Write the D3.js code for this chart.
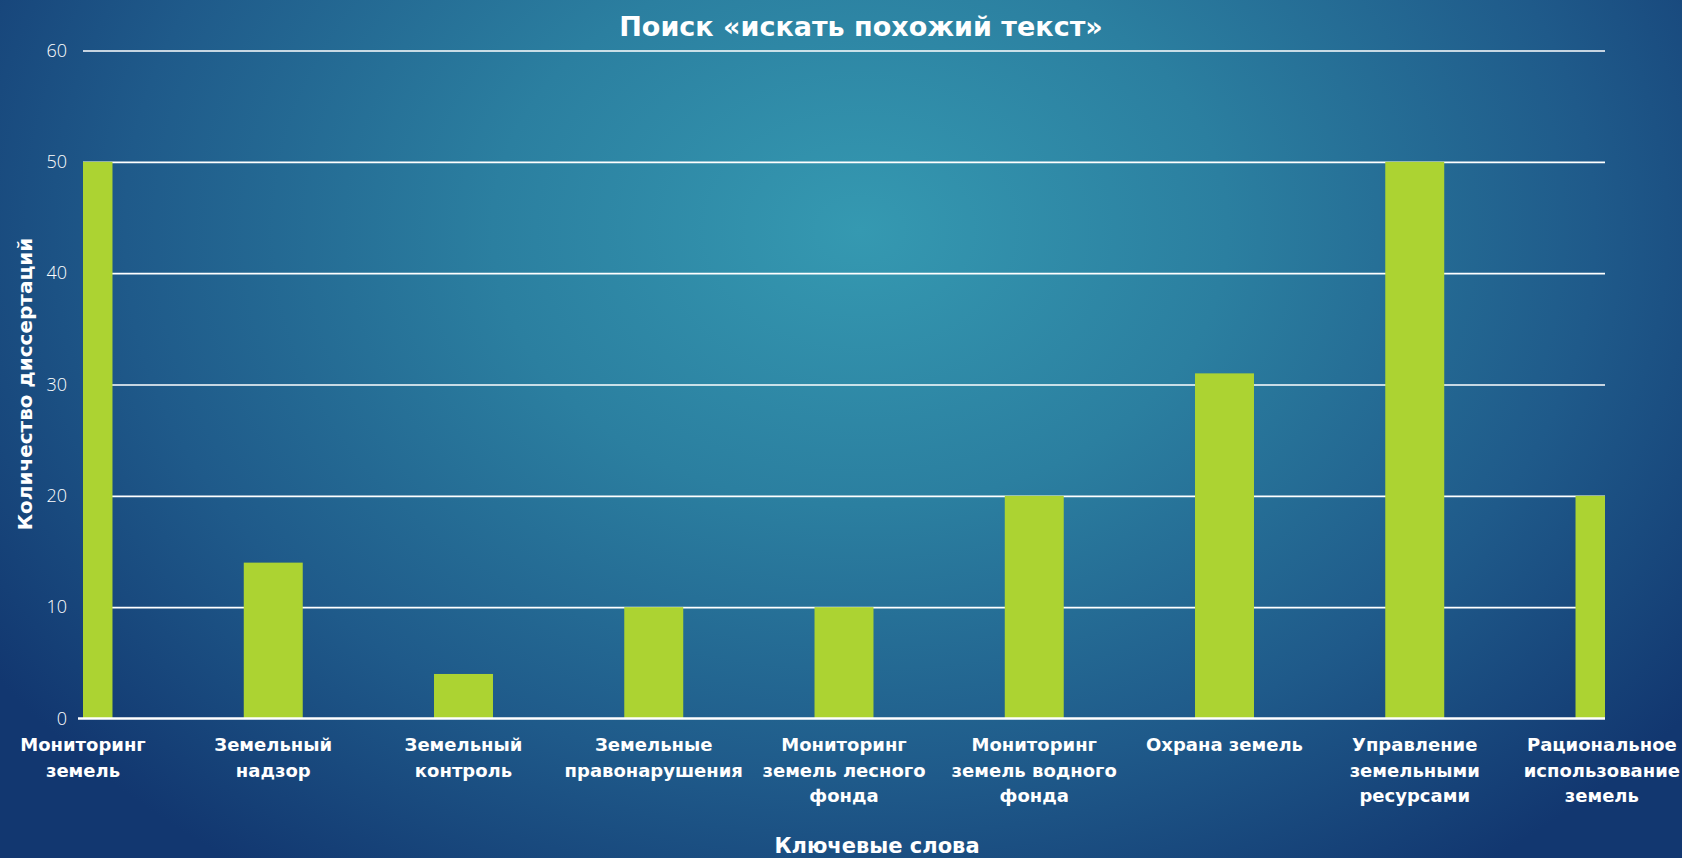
<!DOCTYPE html>
<html><head><meta charset="utf-8">
<script src="https://cdn.jsdelivr.net/npm/d3@7"></script>
<style>
html,body{margin:0;padding:0;overflow:hidden;background:#1a4a7e}
svg{display:block}
</style></head>
<body>
<svg id="chart" width="1682" height="858"></svg>
<script>
const categories = [
  "Мониторинг\nземель",
  "Земельный\nнадзор",
  "Земельный\nконтроль",
  "Земельные\nправонарушения",
  "Мониторинг\nземель лесного\nфонда",
  "Мониторинг\nземель водного\nфонда",
  "Охрана земель",
  "Управление\nземельными\nресурсами",
  "Рациональное\nиспользование\nземель"
];
const values = [50, 14, 4, 10, 10, 20, 31, 50, 20];
const yTicks = [0, 10, 20, 30, 40, 50, 60];
const titleText = "Поиск «искать похожий текст»";
const xTitle = "Ключевые слова";
const yTitle = "Количество диссертаций";

const W = 1682, H = 858;
const m = {left: 83, right: 1605, top: 50.5, bottom: 718.5};
const svg = d3.select("#chart");
const defs = svg.append("defs");

const grad = defs.append("radialGradient").attr("id","bg")
  .attr("gradientUnits","userSpaceOnUse")
  .attr("cx", 860).attr("cy", 230).attr("r", 1050)
  .attr("gradientTransform","translate(860,230) scale(1,0.75) translate(-860,-230)");
grad.append("stop").attr("offset","0%").attr("stop-color","#3599b1");
grad.append("stop").attr("offset","35%").attr("stop-color","#2b7fa0");
grad.append("stop").attr("offset","70%").attr("stop-color","#1f5a8a");
grad.append("stop").attr("offset","100%").attr("stop-color","#123770");
svg.append("rect").attr("width",W).attr("height",H).attr("fill","url(#bg)");

defs.append("clipPath").attr("id","plotclip").append("rect")
  .attr("x", m.left).attr("y", m.top - 5).attr("width", m.right - m.left).attr("height", m.bottom - m.top + 5);

const x = d3.scalePoint().domain(d3.range(categories.length)).range([m.left, m.right]).padding(0);
const y = d3.scaleLinear().domain([0, 60]).range([m.bottom, m.top]);
const barW = x.step() * 0.31;

// gridlines
const yAxis = d3.axisLeft(y).tickValues(yTicks).tickSize(-(m.right - m.left)).tickPadding(16);
const gy = svg.append("g").attr("transform", `translate(${m.left},0)`).call(yAxis);
gy.select(".domain").remove();
gy.selectAll(".tick line").attr("stroke","#ffffff").attr("stroke-width",1.6)
  .filter(d => d === 0).attr("stroke-opacity",0);
gy.selectAll(".tick text").attr("fill","#ffffff").attr("font-family","'Open Sans', sans-serif")
  .attr("font-weight",300).attr("font-size","18px");

// bars
svg.append("g").attr("clip-path","url(#plotclip)")
  .selectAll("rect").data(values).join("rect")
  .attr("x", (d,i) => x(i) - barW/2)
  .attr("y", d => y(d))
  .attr("width", barW)
  .attr("height", d => y(0) - y(d))
  .attr("fill", "#acd332");

// baseline axis
svg.append("line").attr("x1", m.left - 5).attr("x2", m.right).attr("y1", y(0)).attr("y2", y(0))
  .attr("stroke","#ffffff").attr("stroke-width",2.5);

// x labels
const lab = svg.append("g").attr("font-family","'DejaVu Sans', sans-serif").attr("font-weight","bold")
  .attr("font-size","18px").attr("fill","#ffffff").attr("text-anchor","middle");
categories.forEach((c,i) => {
  const t = lab.append("text").attr("x", x(i)).attr("y", 751);
  c.split("\n").forEach((line, k) => {
    t.append("tspan").attr("x", x(i)).attr("dy", k === 0 ? 0 : 25.7).text(line);
  });
  const bb = t.node().getBBox();
  let shift = 0;
  if (bb.x < 1) shift = 1 - bb.x;
  if (bb.x + bb.width > W - 2) shift = (W - 2) - (bb.x + bb.width);
  if (shift) t.selectAll("tspan").attr("x", x(i) + shift);
});

// title
svg.append("text").attr("x", 861).attr("y", 36).attr("text-anchor","middle")
  .attr("font-family","'DejaVu Sans', sans-serif").attr("font-weight","bold").attr("font-size","27px")
  .attr("fill","#ffffff").text(titleText);

// axis titles
svg.append("text").attr("x", 877).attr("y", 853).attr("text-anchor","middle")
  .attr("font-family","'DejaVu Sans', sans-serif").attr("font-weight","bold").attr("font-size","21px")
  .attr("fill","#ffffff").text(xTitle);
svg.append("text").attr("transform", "translate(32,384) rotate(-90)").attr("text-anchor","middle")
  .attr("font-family","'DejaVu Sans', sans-serif").attr("font-weight","bold").attr("font-size","20px")
  .attr("fill","#ffffff").text(yTitle);
</script>
</body></html>
